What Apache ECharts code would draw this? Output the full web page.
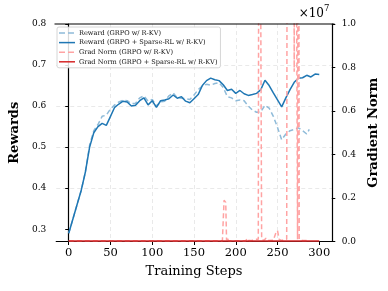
<!DOCTYPE html>
<html><head><meta charset="utf-8">
<script src="https://cdn.jsdelivr.net/npm/echarts@6/dist/echarts.min.js"></script>
<style>html,body{margin:0;padding:0;background:#fff}#c{width:388px;height:291px}</style>
</head><body><div id="c"></div>
<script>
// ---- data ----
const stepsSparse = [0,5,10,15,20,25,30,35,40,45,50,55,60,65,70,75,80,85,90,95,100,105,110,115,120,125,130,135,140,145,150,155,160,165,170,175,180,185,190,195,200,205,210,215,220,225,230,235,240,245,250,255,260,265,270,275,280,285,290,295,300];
const rewardSparse = [0.29,0.325,0.36,0.395,0.44,0.50,0.535,0.55,0.558,0.553,0.575,0.597,0.605,0.612,0.61,0.60,0.602,0.613,0.62,0.603,0.613,0.597,0.613,0.615,0.618,0.627,0.619,0.623,0.612,0.608,0.618,0.628,0.65,0.662,0.668,0.664,0.662,0.652,0.638,0.641,0.631,0.638,0.63,0.626,0.628,0.631,0.64,0.663,0.65,0.632,0.615,0.598,0.62,0.64,0.658,0.668,0.669,0.675,0.671,0.678,0.677];
const stepsGRPO = [0,5,10,15,20,25,30,35,40,45,50,55,60,65,70,75,80,85,90,95,100,105,110,115,120,125,130,135,140,145,150,155,160,165,170,175,180,185,190,195,200,205,210,215,220,225,230,235,240,245,250,255,260,265,270,275,280,285,288];
const rewardGRPO = [0.29,0.325,0.36,0.395,0.44,0.505,0.54,0.555,0.575,0.578,0.593,0.603,0.61,0.614,0.613,0.606,0.607,0.62,0.625,0.612,0.616,0.60,0.61,0.612,0.625,0.632,0.62,0.619,0.618,0.616,0.627,0.64,0.649,0.653,0.651,0.655,0.657,0.645,0.623,0.62,0.613,0.615,0.613,0.60,0.59,0.585,0.586,0.602,0.595,0.575,0.548,0.518,0.532,0.54,0.543,0.547,0.54,0.532,0.543];
// gradient norm, in units of 1e7
const gradStepsGRPO = [0,25,50,75,100,125,150,175,184,186,188,189,190,191,195,205,212,214,216,220,224,226,227,228,230,231,234,236,238,245,248,250,252,255,261,262,269,270,271,273,274,275,276,280,285,288];
const gradNormGRPO  = [0.003,0.003,0.003,0.003,0.003,0.003,0.003,0.003,0.004,0.19,0.18,0.005,0.02,0.005,0.004,0.004,0.004,0.015,0.004,0.006,0.01,0.004,0.01,3.0,3.0,0.01,0.005,0.015,0.004,0.006,0.04,0.05,0.01,0.005,0.01,3.0,3.0,0.78,3.0,3.0,0.01,3.0,0.01,0.005,0.004,0.003];
const gradStepsSparse = [0,50,100,150,200,250,300];
const gradNormSparse  = [0.002,0.002,0.002,0.002,0.002,0.002,0.002];
const xTicks = [0,50,100,150,200,250,300];
const yTicks = [0.3,0.4,0.5,0.6,0.7,0.8];

const pair = (xs, ys) => xs.map((x,i)=>[x, ys[i]]);
const FONT = '"DejaVu Serif", serif';
const names = ['Reward (GRPO w/ R-KV)','Reward (GRPO + Sparse-RL w/ R-KV)','Grad Norm (GRPO w/ R-KV)','Grad Norm (GRPO + Sparse-RL w/ R-KV)'];
const SOLID = 'path://M0,0h16v1.5h-16z';
const DASH = 'path://M0,0h6v1.5h-6z M9,0h6v1.5h-6z M16,0h0.01v1.5h-0.01z';
const icons = [DASH, SOLID, DASH, SOLID];

const chart = echarts.init(document.getElementById('c'), null, {renderer:'canvas'});
chart.setOption({
  animation:false,
  backgroundColor:'#fff',
  textStyle:{fontFamily:FONT},
  grid:{left:54.5, right:53.5, top:24, bottom:49.5, show:false},
  legend:{
    orient:'vertical', left:57, top:27, padding:[2,3,2,2],
    itemWidth:16, itemHeight:1.5, itemGap:1.6,
    backgroundColor:'rgba(255,255,255,0.85)', borderColor:'#cccccc', borderWidth:0.8, borderRadius:2,
    textStyle:{fontFamily:FONT, fontSize:6.6, lineHeight:8, color:'#111', padding:[0,0,0,-1]},
    data:names.map((n,i)=>({name:n, icon:icons[i]}))
  },
  xAxis:{
    type:'value', min:-15, max:315, splitNumber:6,
    name:'Training Steps', nameLocation:'middle', nameGap:24,
    nameTextStyle:{fontFamily:FONT, fontSize:13, color:'#000'},
    axisLine:{show:true, lineStyle:{color:'#000', width:1.2}},
    axisTick:{show:true, length:3.5, lineStyle:{color:'#000', width:1}, customValues:xTicks},
    axisLabel:{fontFamily:FONT, fontSize:11.5, color:'#000', margin:6, customValues:xTicks},
    splitLine:{show:true, showMinLine:false, showMaxLine:false, lineStyle:{color:'#e3e3e3', type:[4,3], width:0.8}}
  },
  yAxis:[{
    type:'value', min:0.27, max:0.8, position:'left',
    name:'Rewards', nameLocation:'middle', nameGap:32, nameRotate:90,
    nameTextStyle:{fontFamily:FONT, fontSize:13, fontWeight:'bold', color:'#000'},
    axisLine:{show:true, lineStyle:{color:'#000', width:1.2}},
    axisTick:{show:true, length:3.5, lineStyle:{color:'#000', width:1}, customValues:yTicks},
    axisLabel:{fontFamily:FONT, fontSize:9, color:'#000', margin:10, customValues:yTicks, formatter:v=>v.toFixed(1)},
    splitLine:{show:true, showMinLine:false, showMaxLine:false, lineStyle:{color:'#e3e3e3', type:[4,3], width:0.8}}
  },{
    type:'value', min:0, max:1, interval:0.2, position:'right',
    name:'Gradient Norm', nameLocation:'middle', nameGap:31, nameRotate:90,
    nameTextStyle:{fontFamily:FONT, fontSize:13, fontWeight:'bold', color:'#000'},
    axisLine:{show:true, lineStyle:{color:'#000', width:1.2}},
    axisTick:{show:true, length:3.5, lineStyle:{color:'#000', width:1}},
    axisLabel:{fontFamily:FONT, fontSize:9, color:'#000', margin:10, formatter:v=>v.toFixed(1)},
    splitLine:{show:false}
  }],
  graphic:[
    {type:'line', z:100, shape:{x1:54.5, y1:24, x2:334.5, y2:24}, style:{stroke:'#000', lineWidth:1.2}},
    {type:'text', right:64, top:8, style:{text:'\u00d710', fontFamily:FONT, fontSize:12, fill:'#000'}},
    {type:'text', left:324, top:4, style:{text:'7', fontFamily:FONT, fontSize:8.5, fill:'#000'}}
  ],
  series:[
    {name:names[0], type:'line', yAxisIndex:0, symbol:'none', data:pair(stepsGRPO, rewardGRPO),
     lineStyle:{color:'#8fbbd9', width:1.5, type:[5,3]}, itemStyle:{color:'#8fbbd9'}},
    {name:names[1], type:'line', yAxisIndex:0, symbol:'none', data:pair(stepsSparse, rewardSparse),
     lineStyle:{color:'#1f77b4', width:1.5}, itemStyle:{color:'#1f77b4'}},
    {name:names[2], type:'line', yAxisIndex:1, symbol:'none', data:pair(gradStepsGRPO, gradNormGRPO),
     lineStyle:{color:'#ffa3a3', width:1.5, type:[5,3]}, itemStyle:{color:'#ffa3a3'}},
    {name:names[3], type:'line', yAxisIndex:1, symbol:'none', data:pair(gradStepsSparse, gradNormSparse),
     lineStyle:{color:'#d62728', width:1.5}, itemStyle:{color:'#d62728'}}
  ]
});
</script></body></html>
